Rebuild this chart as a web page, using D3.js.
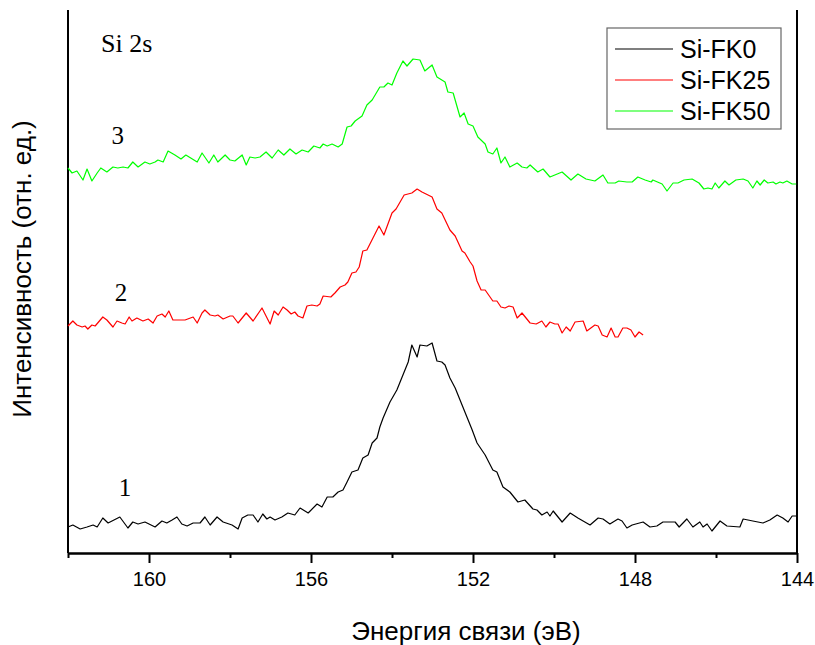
<!DOCTYPE html>
<html>
  <head>
    <meta charset="utf-8">
    <style>
      body { margin: 0; background: #fff; }
      .tick text { font-family: Arial, "Liberation Sans", sans-serif; font-size: 20px; fill: #000; }
      .axis path, .axis line { stroke: #000; stroke-width: 2; }
      .spectrum { fill: none; stroke-width: 1.2; stroke-linejoin: round; }
    </style>
    <script src="https://d3js.org/d3.v7.min.js"></script>
  </head>
  <body>
    <svg id="chart" width="815" height="645"></svg>

    <script>
      // binding energy (eV) and intensity (arb. units)
      var energyFK0 = [162.00,161.88,161.70,161.53,161.38,161.28,161.14,161.01,160.72,160.52,160.40,160.27,160.10,159.85,159.68,159.56,159.43,159.31,159.19,159.06,158.91,158.74,158.62,158.49,158.32,158.17,157.95,157.80,157.70,157.56,157.43,157.31,157.19,157.09,157.01,156.89,156.72,156.57,156.40,156.27,156.07,155.85,155.73,155.60,155.46,155.33,155.21,155.11,154.99,154.84,154.72,154.59,154.49,154.37,154.30,154.22,154.05,153.88,153.73,153.60,153.51,153.38,153.31,153.14,153.01,152.89,152.77,152.69,152.57,152.44,152.32,152.15,152.02,151.90,151.70,151.51,151.41,151.26,151.09,150.89,150.72,150.52,150.42,150.30,150.17,150.10,150.02,149.80,149.60,149.41,149.11,148.91,148.79,148.62,148.42,148.32,148.20,148.07,147.80,147.63,147.46,147.31,147.01,146.91,146.72,146.57,146.40,146.32,146.22,146.10,145.90,145.73,145.41,145.33,145.09,144.84,144.67,144.49,144.35,144.22,144.12,144.00];
      var intensityFK0 = [26,28,24,26,28,26,35,30,36,25,31,29,31,26,32,30,33,36,29,27,30,30,36,28,36,31,28,24,35,38,38,31,39,34,36,33,36,40,38,45,40,49,46,56,56,61,63,71,81,83,95,98,110,115,126,135,151,163,178,191,208,196,208,207,210,192,191,188,175,165,153,136,123,110,98,83,81,66,61,51,53,44,43,38,41,37,42,31,40,35,28,35,34,29,34,32,25,28,31,26,27,31,31,26,34,26,31,26,29,22,32,27,26,34,32,30,33,38,35,31,37,37];

      var energyFK25 = [162.00,161.88,161.78,161.65,161.58,161.51,161.41,161.33,161.14,161.04,160.89,160.79,160.67,160.59,160.49,160.42,160.30,160.15,160.02,159.90,159.80,159.68,159.60,159.51,159.41,159.11,158.91,158.81,158.69,158.62,158.49,158.37,158.30,158.17,158.00,157.93,157.80,157.60,157.43,157.21,157.01,156.91,156.81,156.69,156.59,156.49,156.40,156.32,156.20,156.10,155.98,155.85,155.78,155.70,155.51,155.41,155.28,155.16,155.09,154.99,154.89,154.81,154.72,154.62,154.47,154.32,154.20,154.00,153.90,153.70,153.51,153.38,153.26,153.01,152.89,152.77,152.57,152.44,152.27,152.20,152.07,152.00,151.90,151.80,151.70,151.51,151.41,151.31,151.21,151.11,151.01,150.91,150.79,150.59,150.44,150.30,150.20,150.10,149.98,149.90,149.80,149.70,149.60,149.48,149.28,149.19,148.99,148.91,148.81,148.69,148.59,148.49,148.42,148.30,148.20,148.10,148.00,147.90,147.80];
      var intensityFK25 = [227,232,228,226,227,224,228,227,236,233,226,232,230,229,236,232,235,232,234,230,237,239,236,242,233,233,236,230,240,243,238,237,238,234,237,237,230,240,232,245,229,242,238,246,243,239,241,237,235,247,248,247,249,257,256,260,266,268,271,280,281,286,302,303,315,327,318,340,344,358,360,364,361,356,344,340,323,317,302,300,291,287,272,263,263,252,252,246,245,247,246,235,240,230,229,232,226,231,229,229,220,226,222,231,232,222,228,227,218,216,225,216,216,225,225,223,216,221,218];

      var energyFK50 = [162.00,161.90,161.78,161.63,161.53,161.41,161.28,161.19,161.04,160.89,160.77,160.64,160.52,160.40,160.27,160.10,159.98,159.85,159.78,159.65,159.53,159.36,159.21,159.09,158.81,158.69,158.52,158.40,158.30,158.12,158.00,157.88,157.70,157.60,157.51,157.38,157.26,157.11,156.96,156.81,156.67,156.52,156.37,156.22,156.07,155.93,155.78,155.70,155.60,155.48,155.33,155.23,155.11,155.01,154.91,154.74,154.62,154.49,154.30,154.20,154.10,154.00,153.88,153.73,153.63,153.48,153.31,153.19,153.01,152.89,152.69,152.62,152.49,152.32,152.22,152.12,152.00,151.88,151.70,151.63,151.51,151.41,151.31,151.21,151.09,150.91,150.79,150.67,150.59,150.40,150.27,150.10,149.80,149.58,149.41,149.21,148.99,148.79,148.67,148.49,148.40,148.20,148.07,147.93,147.75,147.60,147.56,147.33,147.21,147.06,146.94,146.79,146.59,146.42,146.30,146.20,146.10,146.02,145.93,145.78,145.68,145.51,145.33,145.21,145.09,144.99,144.91,144.81,144.72,144.59,144.52,144.42,144.35,144.25,144.12,144.02];
      var intensityFK50 = [385,380,382,373,384,372,380,385,381,386,385,386,385,391,386,391,389,391,393,391,402,398,394,398,391,400,390,398,391,398,393,392,398,388,396,395,396,401,395,403,398,404,399,403,401,407,405,409,407,409,406,409,426,427,432,437,448,453,466,466,470,468,480,492,487,494,493,482,488,476,471,461,460,436,440,429,427,416,409,401,399,405,390,396,386,390,386,385,388,381,384,376,381,373,379,374,372,378,370,370,372,371,371,376,373,371,373,369,362,370,370,373,374,370,364,365,364,370,365,372,368,373,374,372,365,372,368,373,370,371,369,371,370,372,369,369];

      var seriesNames = ["Si-FK0", "Si-FK25", "Si-FK50"];
      var seriesColors = ["#000000", "#ff0000", "#00ff00"];
      var curveLabels = ["1", "2", "3"];
      var majorTicks = [160, 156, 152, 148, 144];
      var minorTicks = [162, 158, 154, 150, 146];

      var series = [
        { name: seriesNames[0], color: seriesColors[0], label: curveLabels[0], e: energyFK0, v: intensityFK0 },
        { name: seriesNames[1], color: seriesColors[1], label: curveLabels[1], e: energyFK25, v: intensityFK25 },
        { name: seriesNames[2], color: seriesColors[2], label: curveLabels[2], e: energyFK50, v: intensityFK50 }
      ];

      var svg = d3.select("#chart");
      var plotLeft = 68, plotRight = 797, plotTop = 10, plotBottom = 553;

      var x = d3.scaleLinear().domain([162, 144]).range([plotLeft, plotRight]);
      var y = d3.scaleLinear().domain([0, 543]).range([plotBottom, plotTop]);

      // minor ticks first, then the labelled axis on top
      svg.append("g")
        .attr("class", "axis")
        .attr("transform", "translate(0," + plotBottom + ")")
        .call(d3.axisBottom(x).tickValues(minorTicks).tickSize(5).tickSizeOuter(0).tickFormat(""));

      svg.append("g")
        .attr("class", "axis")
        .attr("transform", "translate(0," + plotBottom + ")")
        .call(d3.axisBottom(x).tickValues(majorTicks).tickSize(10).tickSizeOuter(0).tickPadding(9).tickFormat(d3.format("d")));

      // left and right frame lines
      svg.append("line").attr("x1", plotLeft).attr("x2", plotLeft).attr("y1", plotTop).attr("y2", plotBottom)
        .attr("stroke", "#000").attr("stroke-width", 2);
      svg.append("line").attr("x1", plotRight).attr("x2", plotRight).attr("y1", plotTop).attr("y2", plotBottom)
        .attr("stroke", "#000").attr("stroke-width", 2);

      var line = d3.line()
        .x(function(d) { return x(d[0]); })
        .y(function(d) { return y(d[1]); });

      series.forEach(function(s) {
        var pts = s.e.map(function(e, i) { return [e, s.v[i]]; });
        svg.append("path")
          .datum(pts)
          .attr("class", "spectrum")
          .attr("stroke", s.color)
          .attr("d", line);
      });

      // curve numbers
      var labelPos = [[160.59, 57], [160.69, 252], [160.77, 409]];
      series.forEach(function(s, i) {
        svg.append("text")
          .attr("x", x(labelPos[i][0]))
          .attr("y", y(labelPos[i][1]))
          .attr("text-anchor", "middle")
          .attr("font-family", "'Liberation Serif', 'Times New Roman', serif")
          .attr("font-size", 25)
          .text(s.label);
      });

      svg.append("text")
        .attr("x", 101)
        .attr("y", 52)
        .attr("font-family", "'Liberation Serif', 'Times New Roman', serif")
        .attr("font-size", 26)
        .text("Si 2s");

      // legend
      var legend = svg.append("g").attr("transform", "translate(607,28)");
      legend.append("rect")
        .attr("width", 174).attr("height", 101)
        .attr("fill", "#fff").attr("stroke", "#666").attr("stroke-width", 1.2);
      series.forEach(function(s, i) {
        var ly = 21 + i * 31;
        legend.append("line")
          .attr("x1", 8).attr("x2", 66).attr("y1", ly).attr("y2", ly)
          .attr("stroke", s.color).attr("stroke-width", 1.2);
        legend.append("text")
          .attr("x", 73).attr("y", ly + 9)
          .attr("font-family", "Arial, 'Liberation Sans', sans-serif")
          .attr("font-size", 25)
          .text(s.name);
      });

      // axis titles
      svg.append("text")
        .attr("x", 466)
        .attr("y", 640)
        .attr("text-anchor", "middle")
        .attr("font-family", "Arial, 'Liberation Sans', sans-serif")
        .attr("font-size", 26)
        .text("Энергия связи (эВ)");

      svg.append("text")
        .attr("transform", "translate(31,269) rotate(-90)")
        .attr("text-anchor", "middle")
        .attr("font-family", "Arial, 'Liberation Sans', sans-serif")
        .attr("font-size", 26)
        .text("Интенсивность (отн. ед.)");
    </script>
  </body>
</html>
